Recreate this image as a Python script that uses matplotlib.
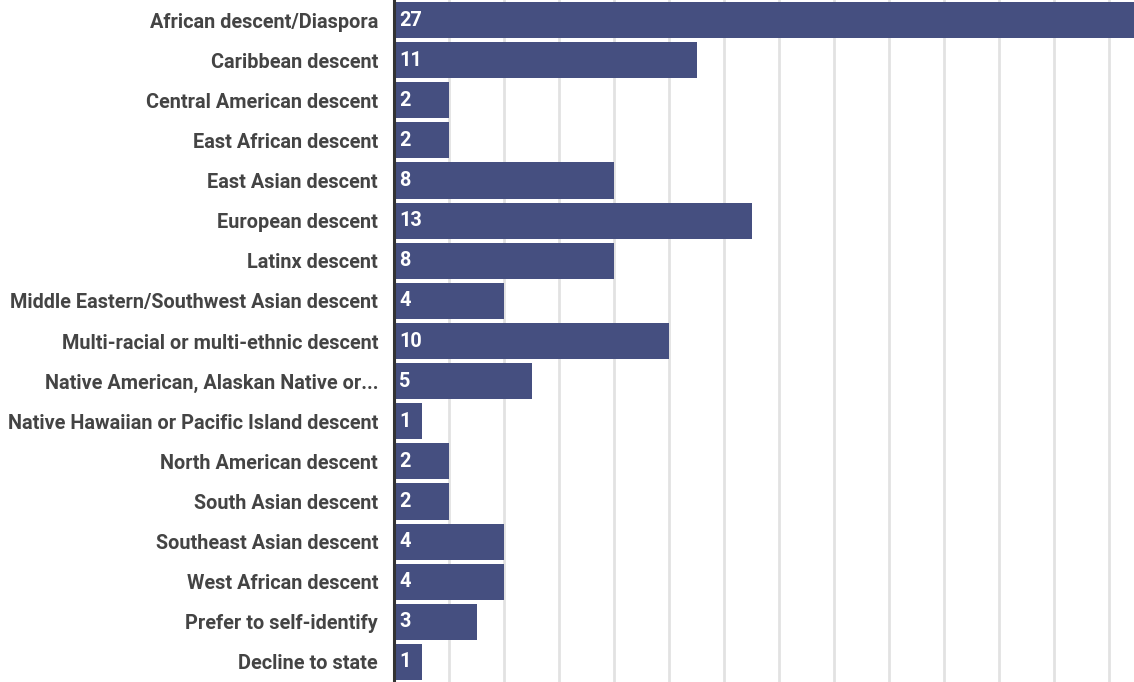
import numpy as np
import matplotlib.pyplot as plt

plt.rcParams['font.family'] = ['Roboto', 'DejaVu Sans']

categories = ['African descent/Diaspora', 'Caribbean descent', 'Central American descent',
              'East African descent', 'East Asian descent', 'European descent',
              'Latinx descent', 'Middle Eastern/Southwest Asian descent',
              'Multi-racial or multi-ethnic descent', 'Native American, Alaskan Native or...',
              'Native Hawaiian or Pacific Island descent', 'North American descent',
              'South Asian descent', 'Southeast Asian descent', 'West African descent',
              'Prefer to self-identify', 'Decline to state']
counts = [27, 11, 2, 2, 8, 13, 8, 4, 10, 5, 1, 2, 2, 4, 4, 3, 1]

bar_color = '#454f80'

fig = plt.figure(figsize=(11.34, 6.82), dpi=100)
ax = fig.add_axes([394 / 1134, 0, 1 - 394 / 1134, 1])

y = np.arange(len(categories))
ax.barh(y, counts, height=0.9, color=bar_color, zorder=2)

for yi, v in zip(y, counts):
    ax.text(0.18, yi, str(v), color='white', fontsize=14.3, fontweight='bold',
            va='center', ha='left', zorder=3)

ax.set_xlim(0, 26.9)
ax.set_ylim(16.5, -0.5)
ax.set_yticks(y)
ax.set_yticklabels(categories, fontsize=14.3, fontweight='bold', color='#444444')
ax.tick_params(axis='y', length=0, pad=11.5)
ax.set_xticks(np.arange(2, 27, 2))
ax.tick_params(axis='x', length=0, labelbottom=False)
ax.grid(axis='x', color='#e2e2e2', linewidth=2, zorder=0)

for s in ['top', 'right', 'bottom']:
    ax.spines[s].set_visible(False)
ax.spines['left'].set_color('#333333')
ax.spines['left'].set_linewidth(2.2)
ax.spines['left'].set_zorder(4)

fig.savefig('out.png', dpi=100)
